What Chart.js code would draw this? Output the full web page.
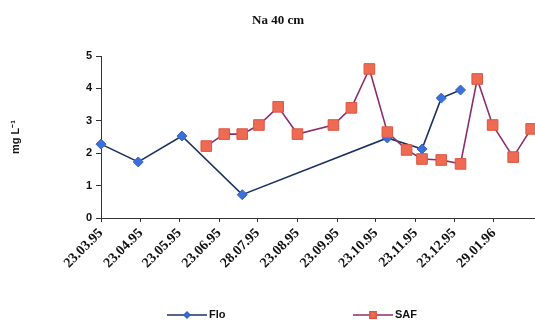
<!DOCTYPE html>
<html>
<head>
<meta charset="utf-8">
<script src="https://cdn.jsdelivr.net/npm/chart.js@4.4.0/dist/chart.umd.min.js"></script>
<style>
  html, body { margin: 0; padding: 0; background: #fff; }
</style>
</head>
<body>
<canvas id="na-chart" width="535" height="320"></canvas>
<script>
const chartTitle = "Na 40 cm";
const yTitle = "mg L\u207B\u00B9";

// sampling dates and Na concentration (mg/L) at 40 cm
const floDates = ["1995-03-23", "1995-04-21", "1995-05-25", "1995-07-11",
  "1995-11-01", "1995-11-28", "1995-12-13", "1995-12-28"];
const floValues = [2.28, 1.73, 2.53, 0.72, 2.47, 2.13, 3.70, 3.95];

const safDates = ["1995-06-13", "1995-06-27", "1995-07-11", "1995-07-24",
  "1995-08-08", "1995-08-23", "1995-09-20", "1995-10-04", "1995-10-18",
  "1995-11-01", "1995-11-16", "1995-11-28", "1995-12-13", "1995-12-28",
  "1996-01-10", "1996-01-22", "1996-02-07", "1996-02-21"];
const safValues = [2.22, 2.59, 2.59, 2.87, 3.43, 2.59, 2.87, 3.40, 4.60,
  2.65, 2.10, 1.82, 1.79, 1.67, 4.29, 2.87, 1.88, 2.75];

const tickDates = ["1995-03-23", "1995-04-23", "1995-05-23", "1995-06-23",
  "1995-07-23", "1995-08-23", "1995-09-23", "1995-10-23", "1995-11-23",
  "1995-12-23", "1996-01-23"];
const tickLabels = ["23.03.95", "23.04.95", "23.05.95", "23.06.95", "28.07.95",
  "23.08.95", "23.09.95", "23.10.95", "23.11.95", "23.12.95", "29.01.96"];

const startDate = "1995-03-23";
const endDate = "1996-02-24";

const dayOf = (s) => (Date.parse(s) - Date.parse(startDate)) / 86400000;
const toPoints = (dates, values) =>
  dates.map((d, i) => ({ x: dayOf(d), y: values[i] }));

// title above the plot and the line+marker legend underneath
const decorations = {
  id: "decorations",
  afterDraw(chart) {
    const ctx = chart.ctx;
    ctx.save();
    ctx.fillStyle = "#111";
    ctx.font = "bold 13px 'Liberation Serif'";
    ctx.textAlign = "center";
    ctx.textBaseline = "middle";
    ctx.fillText(chartTitle, 278, 21);

    const slots = [167, 353];
    const y = 315;
    ctx.font = "bold 11px 'Liberation Sans'";
    ctx.textAlign = "left";
    chart.data.datasets.forEach((ds, i) => {
      const x0 = slots[i];
      ctx.strokeStyle = ds.borderColor;
      ctx.lineWidth = 1.5;
      ctx.beginPath();
      ctx.moveTo(x0, y);
      ctx.lineTo(x0 + 40, y);
      ctx.stroke();
      ctx.fillStyle = ds.pointBackgroundColor;
      ctx.strokeStyle = ds.pointBorderColor;
      Chart.helpers.drawPoint(ctx, {
        pointStyle: ds.pointStyle,
        radius: ds.pointRadius * 0.6,
        borderWidth: 1,
        rotation: 0
      }, x0 + 20, y);
      ctx.fillStyle = "#111";
      ctx.fillText(ds.label, x0 + 42, y);
    });
    ctx.restore();
  }
};

new Chart(document.getElementById("na-chart"), {
  type: "line",
  data: {
    datasets: [
      {
        label: "Flo",
        data: toPoints(floDates, floValues),
        borderColor: "#1c3160",
        borderWidth: 1.6,
        pointStyle: "rectRot",
        pointRadius: 5,
        pointBackgroundColor: "#3b6fd9",
        pointBorderColor: "#3462c8",
        pointBorderWidth: 1,
        order: 2,
        clip: false
      },
      {
        label: "SAF",
        data: toPoints(safDates, safValues),
        borderColor: "#8c2c6e",
        borderWidth: 1.6,
        pointStyle: "rect",
        pointRadius: 7.5,
        pointBackgroundColor: "#ee6a52",
        pointBorderColor: "#dc5640",
        pointBorderWidth: 1,
        order: 1,
        clip: false
      }
    ]
  },
  options: {
    responsive: false,
    devicePixelRatio: 1,
    animation: false,
    layout: {
      autoPadding: false,
      padding: { top: 56, right: 0, bottom: 0, left: 0 }
    },
    plugins: {
      legend: { display: false },
      title: { display: false },
      tooltip: { enabled: false }
    },
    scales: {
      x: {
        type: "linear",
        min: 0,
        max: dayOf(endDate),
        afterBuildTicks: (axis) => {
          axis.ticks = tickDates.map((d) => ({ value: dayOf(d) }));
        },
        afterFit: (axis) => {
          // the rotated labels hang left of their ticks, no room needed on the right
          axis.height = 102;
          axis.paddingRight = 0;
        },
        ticks: {
          autoSkip: false,
          minRotation: 45,
          maxRotation: 45,
          padding: 3,
          color: "#111",
          font: { family: "'Liberation Serif'", size: 14, weight: "bold" },
          callback: (value, index) => tickLabels[index]
        },
        grid: {
          drawOnChartArea: false,
          tickLength: 4,
          color: "#333"
        },
        border: { color: "#333", width: 1 }
      },
      y: {
        min: 0,
        max: 5,
        afterFit: (axis) => {
          axis.width = 101;
        },
        ticks: {
          stepSize: 1,
          padding: 4,
          color: "#111",
          font: { family: "'Liberation Sans'", size: 11, weight: "bold" }
        },
        grid: {
          drawOnChartArea: false,
          tickLength: 5,
          color: "#333"
        },
        border: { color: "#333", width: 1 },
        title: {
          display: true,
          text: yTitle,
          color: "#111",
          padding: { top: 9, bottom: 0 },
          font: { family: "'Liberation Sans'", size: 11, weight: "bold" }
        }
      }
    }
  },
  plugins: [decorations]
});
</script>
</body>
</html>
